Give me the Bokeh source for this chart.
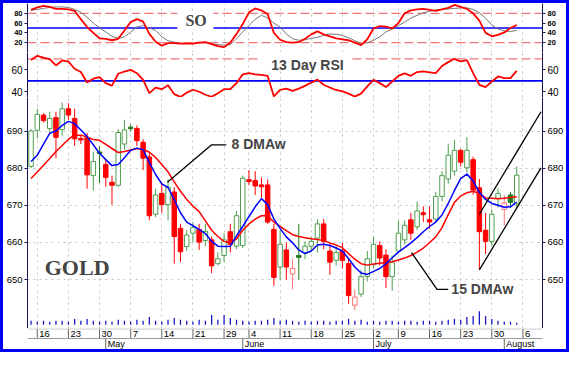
import numpy as np
from bokeh.plotting import figure
from bokeh.models import (Range1d, LinearAxis, FixedTicker, Span, Label,
                          BoxAnnotation, ColumnDataSource, Grid)
from bokeh.layouts import column
from bokeh.embed import file_html
from bokeh.resources import INLINE
from bokeh.core.properties import value

# ---------------- data (gold, daily, 13 Apr - 3 Aug 2007) ----------------
week_tick_idx = [1, 6, 11, 16, 21, 26, 31, 35, 40, 45, 50, 55, 59, 64, 69, 74, 79]
week_tick_labels = ["16", "23", "30", "7", "14", "21", "29", "4", "11", "18",
                    "25", "2", "9", "16", "23", "30", "6"]
month_tick_idx = [12, 34, 55, 76]
month_labels = ["May", "June", "July", "August"]

opens = [680.5, 690.2, 694.3, 690.7, 693.6, 690.4, 696.0, 693.4, 688.0, 688.2,
         678.0, 684.3, 681.0, 676.2, 675.4, 686.5, 691.0, 690.7, 687.0, 683.0,
         667.6, 673.2, 670.2, 673.6, 663.8, 658.9, 662.5, 663.5, 660.5, 660.7,
         654.3, 656.5, 662.9, 659.0, 659.2, 676.9, 676.7, 675.5, 675.5, 663.5,
         653.4, 658.0, 651.5, 656.5, 657.3, 659.0, 661.2, 665.0, 657.7, 655.2,
         657.7, 654.3, 643.1, 646.1, 650.8, 654.0, 659.2, 656.6, 650.8, 657.7,
         660.7, 666.1, 664.2, 668.0, 666.1, 666.3, 672.4, 677.1, 679.2, 684.8,
         680.1, 682.3, 674.7, 663.3, 660.3, 671.9, 668.9, 672.8, 670.4]
highs = [690.5, 696.0, 694.8, 695.2, 695.2, 697.7, 697.5, 696.0, 689.0, 689.5,
         684.5, 686.0, 682.3, 678.0, 690.5, 693.0, 691.8, 691.5, 687.8, 684.0,
         674.5, 676.0, 677.0, 674.9, 665.0, 663.3, 665.5, 665.0, 665.0, 661.6,
         657.3, 662.5, 665.0, 668.5, 678.0, 679.5, 679.2, 677.5, 677.0, 665.0,
         663.3, 660.0, 655.6, 665.0, 660.3, 661.5, 666.3, 666.3, 659.9, 659.0,
         659.9, 655.6, 647.4, 652.6, 657.7, 661.6, 660.3, 658.2, 656.5, 665.9,
         665.9, 668.0, 671.0, 669.7, 669.7, 673.6, 679.2, 686.6, 687.6, 685.2,
         688.3, 683.1, 677.1, 668.0, 668.9, 674.5, 672.8, 673.6, 680.5]
lows = [680.0, 688.0, 692.3, 689.6, 682.7, 688.7, 693.0, 686.0, 686.5, 674.5,
        674.0, 676.0, 675.0, 670.2, 675.0, 685.0, 690.0, 686.0, 679.5, 666.0,
        666.8, 668.0, 666.0, 654.3, 654.7, 657.7, 660.0, 658.0, 659.0, 651.7,
        653.8, 654.7, 657.3, 658.2, 658.5, 675.4, 672.8, 672.0, 665.0, 648.3,
        650.0, 650.0, 647.4, 650.0, 655.5, 657.5, 657.3, 658.2, 651.3, 653.8,
        653.0, 643.5, 641.8, 645.3, 649.5, 653.0, 653.8, 647.8, 647.0, 657.3,
        659.5, 660.7, 663.3, 665.5, 663.7, 665.5, 671.1, 675.8, 678.0, 680.5,
        678.8, 672.8, 652.6, 656.9, 659.0, 669.4, 664.6, 669.3, 669.4]
closes = [690.0, 694.5, 692.8, 693.4, 688.3, 696.0, 694.3, 687.9, 687.6, 678.2,
          681.8, 684.0, 677.5, 675.4, 689.6, 690.3, 690.7, 687.4, 682.7, 667.2,
          672.8, 670.2, 674.9, 661.6, 657.5, 662.0, 664.0, 660.1, 663.0, 653.7,
          655.6, 660.7, 659.5, 667.2, 677.3, 676.4, 675.2, 675.0, 665.5, 650.6,
          659.5, 653.4, 653.0, 656.0, 659.0, 660.3, 665.0, 660.3, 654.7, 657.3,
          655.2, 645.7, 645.3, 650.8, 655.6, 659.5, 655.8, 650.8, 654.7, 662.5,
          664.6, 662.5, 668.5, 667.5, 665.5, 672.4, 678.0, 683.5, 684.8, 681.6,
          684.8, 674.1, 662.9, 660.3, 667.6, 673.2, 670.6, 670.8, 678.1]
volume = [4, 3, 4, 3, 4, 4, 3, 6, 4, 6, 4, 3, 4, 3, 5, 4, 3, 5, 4, 8,
          4, 3, 5, 7, 5, 4, 3, 5, 4, 10, 5, 10, 7, 5, 4, 3, 4, 4, 5, 7,
          4, 5, 4, 3, 4, 3, 4, 4, 3, 4, 4, 6, 4, 5, 3, 4, 3, 4, 4, 3,
          4, 4, 3, 4, 4, 3, 4, 5, 6, 5, 8, 9, 14, 9, 6, 4, 3, 3, 2]
dma8 = [681.8, 683.5, 686.5, 689.4, 690.0, 691.5, 692.6, 692.0, 690.3, 688.5,
        686.3, 684.0, 682.3, 680.7, 681.0, 682.8, 684.8, 685.4, 685.0, 681.5,
        678.3, 675.8, 674.8, 671.5, 668.0, 665.5, 664.5, 663.5, 662.4, 660.3,
        659.0, 658.9, 659.0, 661.8, 664.3, 667.0, 669.6, 671.8, 670.2, 666.3,
        663.8, 661.5, 659.9, 658.0, 657.0, 657.7, 659.3, 659.5, 659.2, 658.5,
        657.7, 655.6, 653.4, 651.8, 651.4, 652.2, 653.0, 654.3, 655.9, 657.4,
        658.6, 659.9, 661.3, 662.9, 664.3, 665.5, 667.4, 670.5, 674.0, 677.2,
        678.4, 676.6, 673.5, 671.6, 670.5, 670.0, 669.5, 669.6, 670.9]
dma15 = [677.2, 679.0, 680.8, 682.6, 684.5, 686.1, 687.8, 688.9, 688.9, 688.4,
         687.7, 687.5, 686.4, 685.3, 684.2, 684.5, 684.9, 685.3, 685.1, 684.3,
         682.9, 681.0, 679.0, 676.3, 673.8, 671.6, 669.8, 668.3, 665.8, 663.3,
         661.6, 660.3, 659.9, 661.0, 663.3, 665.0, 666.3, 667.2, 667.2, 665.5,
         664.3, 663.2, 662.1, 661.6, 661.3, 661.0, 660.8, 660.5, 659.9, 659.3,
         658.6, 657.0, 655.5, 654.3, 653.9, 654.2, 654.4, 654.6, 654.8, 655.3,
         655.8, 656.5, 657.4, 658.5, 660.0, 661.5, 664.0, 667.5, 670.8, 672.5,
         673.4, 673.8, 673.2, 672.0, 671.9, 671.8, 671.9, 672.1, 672.3]
so_k = [87, 92, 95, 93, 89, 89, 88, 85, 68, 52,
        40, 29, 28, 25, 28, 45, 62, 68, 63, 38,
        22, 14, 19, 19, 18, 18, 18, 20, 21, 17,
        13, 11, 20, 38, 58, 82, 90, 86, 78, 40,
        26, 21, 20, 21, 28, 37, 43, 37, 33, 29,
        27, 25, 20, 15, 27, 49, 54, 53, 49, 60,
        80, 86, 88, 89, 87, 85, 88, 91, 97, 93,
        89, 80, 65, 40, 33, 36, 41, 50, 56]
so_d = [86, 88, 90, 92, 93, 93, 92, 88, 82, 72,
        60, 50, 42, 33, 29, 32, 42, 52, 55, 50,
        45, 32, 24, 21, 19, 18, 19, 20, 20, 18,
        16, 15, 16, 28, 42, 55, 68, 76, 70, 60,
        52, 38, 28, 25, 26, 29, 31, 35, 38, 37,
        35, 30, 24, 18, 20, 25, 32, 42, 48, 55,
        62, 70, 76, 81, 84, 87, 88, 89, 90, 91,
        91, 88, 81, 70, 56, 48, 44, 43, 45]
rsi13 = [69, 72.7, 71, 69.7, 64, 68.5, 67.4, 61, 58, 48.5,
         52, 53.5, 48, 45.8, 56.5, 58.5, 60, 57, 51, 39,
         44, 42.5, 46, 38, 35.5, 39.4, 42, 40.2, 37.5, 35.6,
         38.8, 42.5, 42.5, 48, 56, 57, 56, 55.5, 54.5, 36,
         41.8, 43, 41, 43, 45.5, 48.5, 51.2, 46.5, 44, 41.8,
         40.5, 38.5, 35.8, 38.5, 45, 51, 48, 44.4, 49.5, 54.5,
         56.8, 54.6, 58, 58.6, 57.8, 57, 63.5, 67, 70, 67.6,
         68.8, 57, 46.5, 44.4, 49.5, 54, 52.6, 52.6, 59]
so_levels = [20, 80]
rsi_levels = [30, 70]
mid_level = 50
trend_x = [72.0, 81.9]
trend_upper = [667.6, 695.2]
trend_lower = [652.6, 680.1]
ptr8_x, ptr8_y = [21.9, 29.0, 31.35], [676.2, 686.3, 686.3]
ptr15_x, ptr15_y = [61.1, 65.2, 67.0], [657.3, 647.4, 647.4]

# ---------------- styling ----------------
FONT = "Liberation Sans"
SERIF = "Liberation Serif"
LB, FW, RB = 23, 518, 22
AX = "#14145a"
GRID = "#c4c4c4"
GREEN, DKGREEN, RED, PINK = "#4f9f4f", "#1f7a1f", "#ff0000", "#ff7272"
BLUE = "#0000ff"

n = len(closes)
idx = np.arange(n)
xr = Range1d(-0.57, 82.14)


def base_fig(h, yr, **kw):
    f = figure(width=LB + FW + RB, height=h, x_range=xr, y_range=yr,
               output_backend="svg", toolbar_location=None, title=None,
               x_axis_location=None, y_axis_location=None,
               min_border_left=LB, min_border_right=RB,
               min_border_top=0, min_border_bottom=0,
               background_fill_color="white", border_fill_color="white",
               outline_line_color=None, **kw)
    for g in list(f.xgrid) + list(f.ygrid):
        g.visible = False
    f.add_layout(Grid(dimension=0, ticker=FixedTicker(ticks=week_tick_idx),
                      grid_line_color=GRID, grid_line_dash="dotted"))
    return f


def add_yaxes(f, ticks, fs, style="normal"):
    for side in ("left", "right"):
        ax = LinearAxis(ticker=FixedTicker(ticks=ticks),
                        axis_line_color=AX, major_tick_line_color=AX,
                        major_tick_out=3, major_tick_in=0,
                        minor_tick_line_color=None,
                        major_label_text_font=FONT,
                        major_label_text_font_size=fs,
                        major_label_text_font_style=style,
                        major_label_text_color="black",
                        major_label_standoff=2)
        f.add_layout(ax, side)


# ---------------- SO panel ----------------
f_so = base_fig(49, Range1d(0, 100))
add_yaxes(f_so, [20, 40, 60, 80], "7.5px", "bold")
for lv in so_levels:
    f_so.add_layout(Span(location=lv, dimension="width", line_color="#f07878",
                         line_width=1.3, line_dash="9 4", level="underlay"))
f_so.add_layout(Span(location=mid_level, dimension="width", line_color=BLUE,
                     line_width=1.6, level="underlay"))
f_so.add_layout(BoxAnnotation(left=23.5, right=29.3, bottom=46, top=85,
                              fill_color="white", fill_alpha=1,
                              line_color=None, level="underlay"))
f_so.line(idx, so_d, line_color="#777777", line_width=1)
f_so.line(idx, so_k, line_color=RED, line_width=1.8)
f_so.add_layout(Label(x=26.5, y=65, text="SO", text_font=SERIF,
                      text_font_size="16px", text_font_style="bold",
                      text_align="center", text_baseline="middle"))

# ---------------- RSI panel ----------------
f_rsi = base_fig(45, Range1d(35.0, 75.7))
add_yaxes(f_rsi, [40, 60], "10px")
for lv in rsi_levels:
    f_rsi.add_layout(Span(location=lv, dimension="width", line_color="#f07878",
                          line_width=1.3, line_dash="9 4", level="underlay"))
f_rsi.add_layout(Span(location=mid_level, dimension="width", line_color=BLUE,
                      line_width=1.6, level="underlay"))
f_rsi.add_layout(BoxAnnotation(left=36.5, right=51.3, bottom=60, top=76,
                               fill_color="white", fill_alpha=1,
                               line_color=None, level="underlay"))
f_rsi.line(idx, rsi13, line_color=RED, line_width=1.8)
f_rsi.add_layout(Label(x=44.4, y=64.5, text="13 Day RSI", text_font=FONT,
                       text_font_size="14px", text_font_style="bold",
                       text_align="center", text_baseline="middle"))

# ---------------- price panel ----------------
f_px = base_fig(231, Range1d(636.84, 699.03),
                extra_y_ranges={"vol": Range1d(-4, 237)})
add_yaxes(f_px, [650, 660, 670, 680, 690], "9.5px")
f_px.add_layout(Grid(dimension=1, ticker=FixedTicker(ticks=[650, 660, 670, 680, 690]),
                     grid_line_color=GRID, grid_line_dash="dotted"))

prev = [closes[0]] + closes[:-1]
fills, lines_c, tops, bots = [], [], [], []
for o, c, pc in zip(opens, closes, prev):
    if c >= o:
        col = GREEN if c >= pc else PINK
        fills.append("white")
    else:
        col = RED if c < pc else DKGREEN
        fills.append(col)
    lines_c.append(col)
    t, b = max(o, c), min(o, c)
    if t - b < 0.4:
        m = (t + b) / 2
        t, b = m + 0.2, m - 0.2
    tops.append(t)
    bots.append(b)
src = ColumnDataSource(dict(x=idx, high=highs, low=lows, top=tops, bottom=bots,
                            fill=fills, line=lines_c, vol=volume))
f_px.vbar(x="x", width=0.2, top="vol", bottom=0, y_range_name="vol",
          fill_color="#1010c8", line_color=None, source=src)
f_px.segment(x0="x", y0="low", x1="x", y1="high", line_color="line",
             line_width=1, source=src)
f_px.vbar(x="x", width=0.72, top="top", bottom="bottom", fill_color="fill",
          line_color="line", line_width=1, source=src)
f_px.line(idx, dma15, line_color=RED, line_width=1.5)
f_px.line(idx, dma8, line_color=BLUE, line_width=1.5)
f_px.line(trend_x, trend_upper, line_color="black", line_width=1.3)
f_px.line(trend_x, trend_lower, line_color="black", line_width=1.3)
f_px.line(ptr8_x, ptr8_y, line_color="black", line_width=1.3)
f_px.line(ptr15_x, ptr15_y, line_color="black", line_width=1.3)
f_px.add_layout(Label(x=32.2, y=686.5, text="8 DMAw", text_font=FONT,
                      text_font_size="14px", text_font_style="bold",
                      text_align="left", text_baseline="middle"))
f_px.add_layout(Label(x=67.5, y=647.5, text="15 DMAw", text_font=FONT,
                      text_font_size="14px", text_font_style="bold",
                      text_align="left", text_baseline="middle"))
f_px.add_layout(Label(x=7.4, y=653.3, text="GOLD", text_font=SERIF,
                      text_font_size="22px", text_font_style="bold",
                      text_align="center", text_baseline="middle"))

# ---------------- date strip (two-level time axis) ----------------
f_dt = base_fig(21, Range1d(0, 21))
f_dt.renderers = []
f_dt.center = []
f_dt.add_layout(Span(location=20.6, dimension="width", line_color="#b8b8b8",
                     line_width=1))
f_dt.add_layout(Span(location=11, dimension="width", line_color="#9a9a9a",
                     line_width=1.2))
f_dt.segment(x0=week_tick_idx, y0=[21] * len(week_tick_idx),
             x1=week_tick_idx, y1=[11] * len(week_tick_idx),
             line_color="#666666", line_width=1)
f_dt.text(x=week_tick_idx, y=[15.8] * len(week_tick_idx), text=week_tick_labels,
          x_offset=2, text_align="left", text_baseline="middle",
          text_font=value(FONT), text_font_size="9.5px", text_color="black")
f_dt.segment(x0=month_tick_idx, y0=[11] * len(month_tick_idx),
             x1=month_tick_idx, y1=[0] * len(month_tick_idx),
             line_color="#666666", line_width=1)
f_dt.text(x=month_tick_idx, y=[5.4] * len(month_tick_idx), text=month_labels,
          x_offset=2, text_align="left", text_baseline="middle",
          text_font=value(FONT), text_font_size="9px", text_color="black")

layout = column(f_so, f_rsi, f_px, f_dt, spacing=0,
                styles={"border": "3px solid #0000ff", "background-color": "white"})

open("out.html", "w").write(file_html(layout, INLINE))
